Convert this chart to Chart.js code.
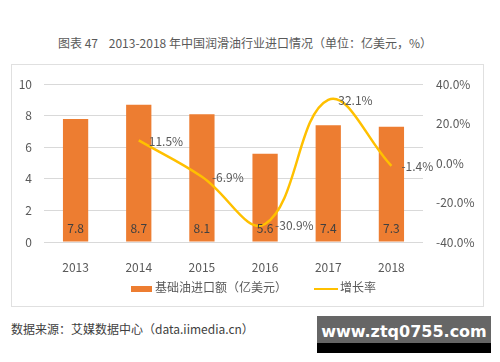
<!DOCTYPE html>
<html>
<head>
<meta charset="utf-8">
<script src="https://cdn.jsdelivr.net/npm/chart.js@4.4.0/dist/chart.umd.min.js"></script>
<style>
  body { margin: 0; width: 500px; height: 362px; background: #fff; position: relative; overflow: hidden;
         font-family: "Noto Sans CJK SC", "Noto Sans", sans-serif; }
  #title { position: absolute; top: 34px; left: 0; width: 490px; text-align: center; font-size: 12px; color: #595959; }
  #frame { position: absolute; left: 11px; top: 64px; width: 471px; height: 241px; border: 1px solid #e0e0e0; }
  #chart { position: absolute; left: 11px; top: 64px; }
  #legend { position: absolute; top: 278px; left: 131px; font-size: 12px; color: #595959; white-space: nowrap; }
  #legend span.box { display: inline-block; width: 21px; height: 6px; background: #ED7D31; vertical-align: middle; margin-right: 3px; }
  #legend span.ln { display: inline-block; width: 24px; height: 2px; background: #FFC000; vertical-align: middle; margin-left: 27px; margin-right: 2px; }
  #source { position: absolute; left: 11px; top: 320px; font-size: 12px; color: #404040; }
  #mark { position: absolute; left: 317px; top: 316px; width: 174px; height: 37px;
          background: linear-gradient(#666 0, #666 74%, #000 74%, #000 100%);
          color: #fff; font-family: "DejaVu Sans", sans-serif; font-weight: bold; font-size: 16px;
          text-align: center; line-height: 32px; }
</style>
</head>
<body>
<div id="title">图表 47&nbsp;&nbsp;&nbsp; 2013-2018 年中国润滑油行业进口情况（单位：亿美元，%）</div>
<div id="frame"></div>
<canvas id="chart" width="472" height="242"></canvas>
<div id="legend"><span class="box"></span>基础油进口额（亿美元）<span class="ln"></span>增长率</div>
<div id="source">数据来源：艾媒数据中心（data.iimedia.cn）</div>
<div id="mark">www.ztq0755.com</div>
<script>
const years = ["2013", "2014", "2015", "2016", "2017", "2018"];
const importValue = [7.8, 8.7, 8.1, 5.6, 7.4, 7.3];
const growthRate = [null, 11.5, -6.9, -30.9, 32.1, -1.4];
const leftTicks = [0, 2, 4, 6, 8, 10];
const rightTicks = [-40, -20, 0, 20, 40];

const labelFont = '12px "Noto Sans CJK SC", "Noto Sans", sans-serif';

// draws the value labels
const valueLabels = {
  id: "valueLabels",
  afterDatasetsDraw(chart) {
    const ctx = chart.ctx;
    ctx.save();
    ctx.font = labelFont;
    // bar labels near the base
    chart.getDatasetMeta(0).data.forEach((bar, i) => {
      ctx.fillStyle = "#404040";
      ctx.textAlign = "center";
      ctx.textBaseline = "middle";
      ctx.fillText(importValue[i].toFixed(1), bar.x, bar.base - 13);
    });
    // growth labels to the right of points
    chart.getDatasetMeta(1).data.forEach((pt, i) => {
      if (growthRate[i] == null) return;
      ctx.fillStyle = "#595959";
      ctx.textAlign = "left";
      ctx.textBaseline = "middle";
      ctx.fillText(growthRate[i].toFixed(1) + "%", pt.x + 10, pt.y + 1);
    });
    ctx.restore();
  },
};

new Chart(document.getElementById("chart").getContext("2d"), {
  data: {
    labels: years,
    datasets: [
      {
        type: "bar",
        label: "基础油进口额（亿美元）",
        data: importValue,
        backgroundColor: "#ED7D31",
        barPercentage: 0.4,
        categoryPercentage: 1,
        yAxisID: "y",
        order: 2,
      },
      {
        type: "line",
        label: "增长率",
        data: growthRate,
        borderColor: "#FFC000",
        borderWidth: 2.5,
        pointRadius: 0,
        tension: 0.4,
        yAxisID: "y1",
        order: 1,
      },
    ],
  },
  options: {
    responsive: false,
    animation: false,
    layout: { padding: { left: 0, right: 0, top: 15, bottom: 34 } },
    plugins: { legend: { display: false }, tooltip: { enabled: false } },
    scales: {
      x: {
        grid: { display: false },
        border: { display: false },
        ticks: { color: "#595959", font: { size: 12, family: '"Noto Sans CJK SC", "Noto Sans", sans-serif' }, padding: 10 },
        afterFit(s) { s.height = 30; },
      },
      y: {
        position: "left",
        min: leftTicks[0],
        max: leftTicks[leftTicks.length - 1],
        afterBuildTicks(s) { s.ticks = leftTicks.map((v) => ({ value: v })); },
        grid: { color: "#d9d9d9", drawTicks: false },
        border: { display: false },
        ticks: { color: "#595959", font: { size: 12, family: '"Noto Sans CJK SC", "Noto Sans", sans-serif' }, padding: 12 },
        afterFit(s) { s.width = 33; },
      },
      y1: {
        position: "right",
        min: rightTicks[0],
        max: rightTicks[rightTicks.length - 1],
        afterBuildTicks(s) { s.ticks = rightTicks.map((v) => ({ value: v })); },
        grid: { drawOnChartArea: false, drawTicks: false },
        border: { display: false },
        ticks: {
          color: "#595959",
          font: { size: 12, family: '"Noto Sans CJK SC", "Noto Sans", sans-serif' },
          padding: 13,
          callback: (v) => v.toFixed(1) + "%",
        },
        afterFit(s) { s.width = 60; },
      },
    },
  },
  plugins: [valueLabels],
});
</script>
</body>
</html>
